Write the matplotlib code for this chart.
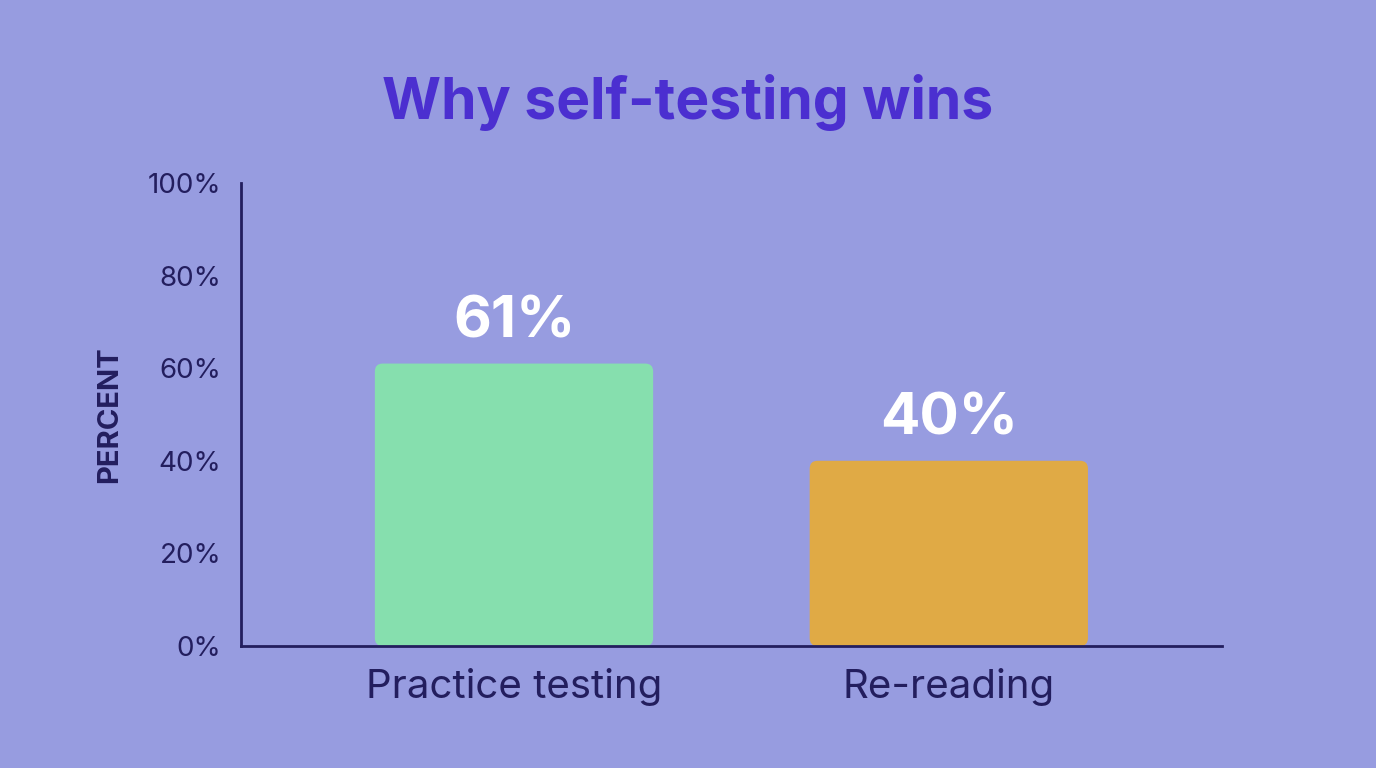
import matplotlib.pyplot as plt
from matplotlib.patches import FancyBboxPatch

categories = ["Practice testing", "Re-reading"]
values = [61, 40]
bar_colors = ["#86DFAE", "#E0AA45"]
yticks = [0, 20, 40, 60, 80, 100]
ytick_labels = ["0%", "20%", "40%", "60%", "80%", "100%"]

bg = "#979CE0"
navy = "#231E5E"

plt.rcParams["font.family"] = ["Inter", "DejaVu Sans"]

fig = plt.figure(figsize=(13.76, 7.68), dpi=100, facecolor=bg)
ax = fig.add_axes([0.1751, 0.1589, 0.888 - 0.1751, 0.7617 - 0.1589])
ax.set_facecolor(bg)

x = list(range(len(categories)))
bars = ax.bar(x, values, width=0.64, color=bar_colors)

# swap plain bars for slightly rounded ones
for b in bars:
    b.set_visible(False)
    patch = FancyBboxPatch((b.get_x(), b.get_y()), b.get_width(), b.get_height(),
                           boxstyle="round,pad=0,rounding_size=0.018",
                           mutation_aspect=94, facecolor=b.get_facecolor(),
                           edgecolor="none", zorder=2)
    ax.add_patch(patch)

for xi, v in zip(x, values):
    ax.text(xi, v + 3, f"{v}%", ha="center", va="bottom", fontsize=42,
            fontweight="bold", color="white")

ax.set_xlim(-0.628, 1.628)
ax.set_ylim(0, 100)
ax.set_yticks(yticks)
ax.set_yticklabels(ytick_labels)
ax.set_xticks(x)
ax.set_xticklabels(categories)
ax.tick_params(axis="y", length=0, pad=14, labelsize=20, labelcolor=navy)
ax.tick_params(axis="x", length=0, pad=16, labelsize=29, labelcolor=navy)
ax.set_ylabel("PERCENT", fontsize=21, fontweight="bold", color=navy, labelpad=18)

for side in ["top", "right"]:
    ax.spines[side].set_visible(False)
for side in ["left", "bottom"]:
    ax.spines[side].set_color(navy)
    ax.spines[side].set_linewidth(2)

fig.text(0.5, 0.866, "Why self-testing wins", ha="center", va="center",
         fontsize=41, fontweight="bold", color="#4B2FD0")

fig.savefig("out.png", dpi=100, facecolor=bg)
